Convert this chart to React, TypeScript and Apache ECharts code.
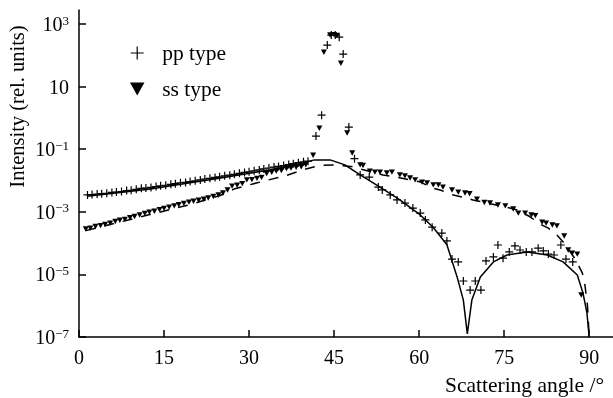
import React, { useEffect, useRef } from 'react';
import * as echarts from 'echarts';

// x tick values (degrees) and y tick exponents (log10 of intensity)
const xTicks = [0, 15, 30, 45, 60, 75, 90];
const yTicks = [-7, -5, -3, -1, 1, 3];

// pp type measured points: scattering angle (deg) and log10 intensity
const ppAngle = [
  1.5, 2.3, 3.2, 4.0, 4.9, 5.8, 6.6, 7.5, 8.4, 9.2, 10.1, 11.0, 11.8, 12.7, 13.6, 14.4, 15.3, 16.2, 17.0, 17.9,
  18.8, 19.6, 20.5, 21.4, 22.2, 23.1, 24.0, 24.8, 25.7, 26.6, 27.4, 28.3, 29.2, 30.0, 30.9, 31.8, 32.6, 33.5,
  34.4, 35.2, 36.1, 37.0, 37.8, 38.7, 39.6, 40.4,
  41.8, 42.8, 43.8, 44.5, 45.2, 45.9, 46.6, 47.6, 48.6,
  49.6, 51.2, 52.8, 53.5, 54.9, 56.1, 57.5, 58.9, 60.2, 61.1, 62.3, 64.0, 64.9, 65.8, 66.9, 67.8, 69.0, 69.9,
  70.9, 71.8, 73.1, 73.9, 74.8, 75.9, 76.9, 77.8, 78.9, 79.9, 81.0, 81.9, 82.8, 83.8, 85.0, 85.9, 87.1,
];
const ppLog = [
  -2.46, -2.45, -2.43, -2.42, -2.41, -2.38, -2.37, -2.35, -2.32, -2.31, -2.28, -2.25, -2.24, -2.22, -2.19, -2.17,
  -2.15, -2.12, -2.10, -2.07, -2.06, -2.03, -2.01, -1.98, -1.95, -1.93, -1.90, -1.88, -1.85, -1.83, -1.80, -1.77,
  -1.74, -1.72, -1.69, -1.66, -1.63, -1.60, -1.57, -1.55, -1.52, -1.49, -1.46, -1.43, -1.40, -1.38,
  -0.58, 0.09, 2.33, 2.65, 2.65, 2.58, 2.04, -0.29, -1.30,
  -1.82, -1.89, -2.21, -2.30, -2.46, -2.62, -2.72, -2.88, -3.04, -3.26, -3.49, -3.68, -3.93, -4.51, -4.60, -5.21,
  -5.50, -5.21, -5.50, -4.57, -4.44, -4.06, -4.48, -4.28, -4.09, -4.22, -4.28, -4.28, -4.16, -4.25, -4.35, -4.38,
  -4.06, -4.51, -4.60,
];

// ss type measured points
const ssAngle = [
  1.2, 2.0, 2.9, 3.8, 4.6, 5.5, 6.4, 7.2, 8.1, 9.0, 9.8, 10.7, 11.6, 12.4, 13.3, 14.2, 15.0, 15.9, 16.8, 17.6,
  18.5, 19.4, 20.2, 21.1, 22.0, 22.8, 23.7, 24.6, 25.4, 26.2,
  27.0, 27.9, 28.8, 29.6, 30.5, 31.4, 32.2, 33.1, 34.0, 34.8, 35.7, 36.6, 37.4, 38.3, 39.2, 40.0, 41.3,
  42.4, 43.2, 44.3, 45.0, 45.5, 46.2, 47.3, 48.2,
  49.6, 50.1, 51.3, 52.2, 53.1, 54.3, 55.2, 56.6, 57.5, 58.4, 59.3, 60.5, 61.4, 62.5, 63.4, 64.2, 65.8, 66.9,
  68.1, 68.9, 70.2, 71.5, 72.5, 73.9, 75.2, 76.6, 77.5, 78.7, 79.8, 80.5, 81.7, 82.4, 83.5, 84.3, 85.6, 86.3,
  87.0, 87.9, 88.6,
];
const ssLog = [
  -3.55, -3.52, -3.47, -3.44, -3.40, -3.36, -3.31, -3.27, -3.24, -3.19, -3.15, -3.10, -3.05, -3.01, -2.98, -2.93,
  -2.89, -2.85, -2.81, -2.77, -2.73, -2.69, -2.66, -2.63, -2.60, -2.56, -2.51, -2.46, -2.40, -2.30,
  -2.18, -2.15, -2.10, -1.98, -1.97, -1.93, -1.90, -1.78, -1.74, -1.70, -1.68, -1.62, -1.60, -1.58, -1.56, -1.50,
  -1.19,
  -0.33, 2.10, 2.65, 2.66, 2.64, 1.75, -0.48, -1.12,
  -1.50, -1.52, -1.70, -1.73, -1.73, -1.76, -1.73, -1.82, -1.85, -1.92, -1.98, -2.05, -2.08, -2.14, -2.14, -2.21,
  -2.30, -2.37, -2.40, -2.42, -2.60, -2.70, -2.72, -2.78, -2.81, -2.91, -3.04, -3.04, -3.10, -3.12, -3.33, -3.36,
  -3.42, -3.45, -3.77, -4.22, -4.32, -4.35, -5.66,
];

// pp theory (solid line)
const ppTheoryAngle = [
  1.4, 12.3, 24.7, 33.7, 40.0, 41.5, 44.3, 46.9, 49.6, 53.1, 56.6, 60.2, 62.5, 64.9, 66.7, 67.8, 68.5, 69.3,
  70.8, 73.1, 75.5, 79.1, 82.6, 85.4, 87.9, 88.9, 89.6, 90.0,
];
const ppTheoryLog = [
  -2.50, -2.28, -1.93, -1.66, -1.42, -1.34, -1.34, -1.50, -1.82, -2.21, -2.62, -3.10, -3.50, -4.05, -5.08, -5.82,
  -6.9, -5.82, -5.08, -4.60, -4.38, -4.28, -4.38, -4.60, -5.02, -5.59, -6.23, -7.0,
];

// ss theory (dashed line)
const ssTheoryAngle = [
  1.2, 10, 20, 25, 27.5, 31.9, 36.7, 40.2, 42.5, 45, 48, 50, 53.6, 56, 58.5, 60.3, 62, 63.7, 65.8, 67.6, 69.5,
  71.3, 74, 76, 77.3, 79.5, 81.4, 82.8, 84.3, 85.6, 87.5, 88.8, 89.2, 89.7, 90,
];
const ssTheoryLog = [
  -3.60, -3.20, -2.75, -2.47, -2.26, -2.05, -1.83, -1.62, -1.52, -1.50, -1.55, -1.65, -1.82, -1.89, -1.98, -2.05,
  -2.22, -2.30, -2.45, -2.53, -2.62, -2.69, -2.80, -2.88, -2.94, -3.15, -3.40, -3.52, -3.74, -4.00, -4.50, -4.96,
  -5.27, -6.0, -7.0,
];

const plusPath = 'path://M0,3.4H8V4.6H0ZM3.4,0H4.6V8H3.4Z';
const plusLegend = 'path://M0,5.9H13V7.1H0ZM5.9,0H7.1V13H5.9Z';
const triPath = 'path://M0,0H10L5,9Z';

const zip = (a: number[], b: number[]) => a.map((x, i) => [x, b[i]]);

export default function App() {
  const ref = useRef<HTMLDivElement>(null);
  useEffect(() => {
    if (!ref.current) return;
    const chart = echarts.init(ref.current, null, { renderer: 'svg' });
    const font = 'Liberation Serif';
    chart.setOption({
      animation: false,
      grid: { left: 79, right: 0, top: 10, bottom: 61, containLabel: false },
      xAxis: {
        type: 'value',
        min: 0,
        max: 94.2,
        axisLine: { onZero: false, lineStyle: { color: '#000', width: 1.5 } },
        axisTick: { inside: true, length: 7, lineStyle: { color: '#000', width: 1.5 }, customValues: xTicks },
        axisLabel: { customValues: xTicks, color: '#000', fontFamily: font, fontSize: 20, margin: 10 },
        splitLine: { show: false },
      },
      yAxis: {
        type: 'value',
        min: -7,
        max: 3.45,
        axisLine: { show: true, onZero: false, lineStyle: { color: '#000', width: 1.5 } },
        axisTick: { show: true, inside: true, length: 7, lineStyle: { color: '#000', width: 1.5 }, customValues: yTicks },
        axisLabel: {
          customValues: yTicks,
          color: '#000',
          fontFamily: font,
          fontSize: 20,
          margin: 10,
          formatter: (v: number) => (v === 1 ? '10' : `10{sup|${v < 0 ? '\u2212' + -v : v}}`),
          rich: {
            sup: { fontSize: 13, fontFamily: font, color: '#000', verticalAlign: 'top', padding: [0, 0, 8, 0] },
          },
        },
        splitLine: { show: false },
      },
      legend: {
        orient: 'vertical',
        left: 125,
        top: 37,
        itemWidth: 30,
        itemHeight: 13,
        itemGap: 14,
        textStyle: { fontFamily: font, fontSize: 21.5, color: '#000', padding: [0, 0, 0, 5] },
        data: [
          { name: 'pp type', icon: plusLegend, itemStyle: { color: '#000' } },
          { name: 'ss type', icon: triPath, itemStyle: { color: '#000' } },
        ],
      },
      graphic: [
        {
          type: 'text',
          x: 17,
          y: 106.5,
          rotation: Math.PI / 2,
          style: { text: 'Intensity (rel. units)', fontFamily: font, fontSize: 20.5, fill: '#000', align: 'center', verticalAlign: 'middle' },
        },
        {
          type: 'text',
          x: 604,
          y: 385,
          style: { text: 'Scattering angle /\u00b0', fontFamily: font, fontSize: 21.5, fill: '#000', align: 'right', verticalAlign: 'middle' },
        },
      ],
      series: [
        {
          name: 'pp theory',
          type: 'line',
          data: zip(ppTheoryAngle, ppTheoryLog),
          showSymbol: false,
          symbol: 'none',
          lineStyle: { color: '#000', width: 1.5 },
        },
        {
          name: 'ss theory',
          type: 'line',
          data: zip(ssTheoryAngle, ssTheoryLog),
          showSymbol: false,
          symbol: 'none',
          lineStyle: { color: '#000', width: 1.5, type: [10, 9] },
        },
        {
          name: 'pp type',
          type: 'scatter',
          data: zip(ppAngle, ppLog),
          symbol: plusPath,
          symbolSize: 8,
          itemStyle: { color: '#000', opacity: 1 },
        },
        {
          name: 'ss type',
          type: 'scatter',
          data: zip(ssAngle, ssLog),
          symbol: triPath,
          symbolSize: [6, 5.4],
          itemStyle: { color: '#000', opacity: 1 },
        },
      ],
    });
    return () => chart.dispose();
  }, []);
  return <div ref={ref} style={{ position: 'fixed', left: 0, top: 0, width: 613, height: 398 }} />;
}
